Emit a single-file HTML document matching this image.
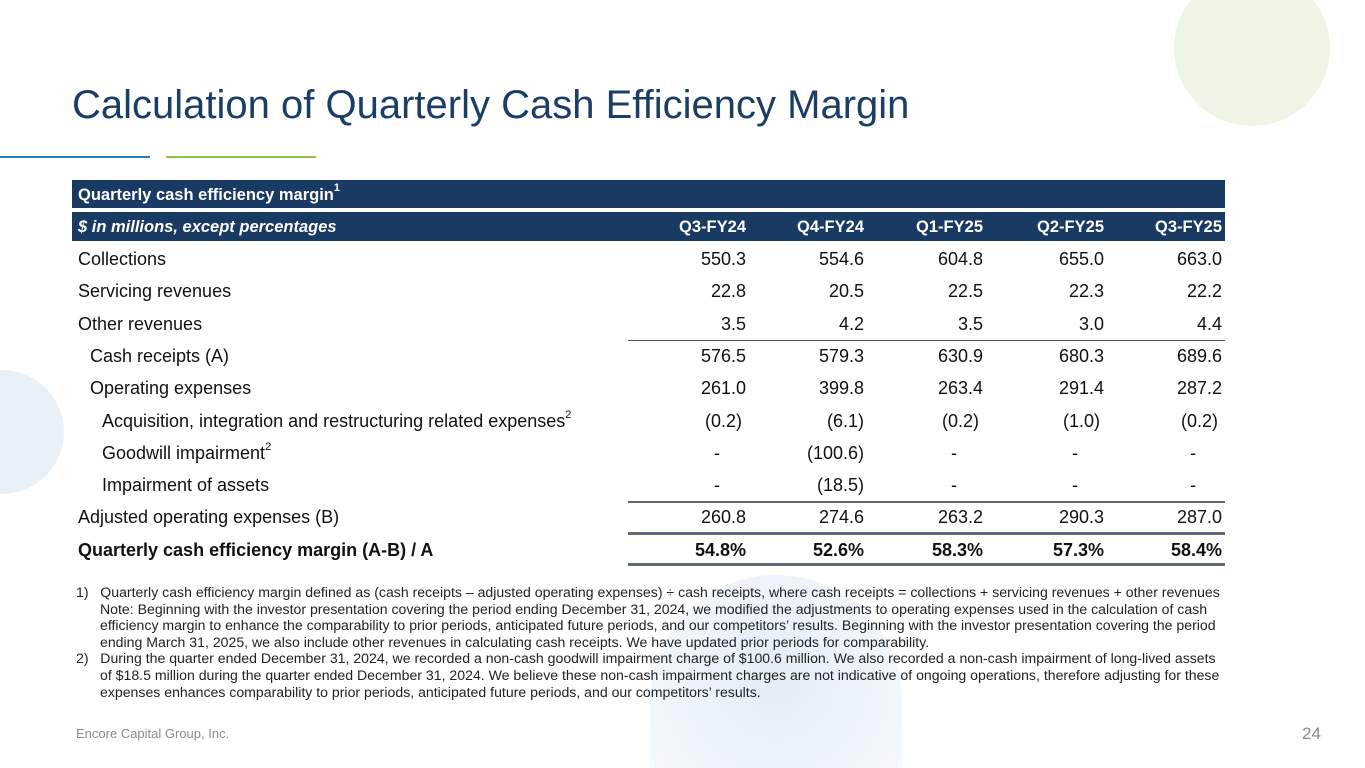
<!DOCTYPE html>
<html><head><meta charset="utf-8"><style>
*{margin:0;padding:0;box-sizing:border-box}
html{width:1365px;height:768px;overflow:hidden}
body{width:1365px;height:768px;overflow:hidden;background:#fff;font-family:"Liberation Sans",sans-serif;color:#111}
#slide{position:relative;width:1365px;height:768px;overflow:hidden}
.abs{position:absolute}
.cell{position:absolute;font-size:18px;white-space:nowrap;line-height:20px}
sup{font-size:11px;vertical-align:9px;line-height:0}
.fn{position:absolute;left:76px;width:1200px;font-size:14.1px;line-height:16.6px;color:#222;white-space:nowrap}
</style></head><body>
<div id="slide">
<div class="abs" style="left:1174px;top:-30px;width:156px;height:156px;border-radius:50%;background:#eef5e4"></div>
<div class="abs" style="left:-60px;top:370px;width:124px;height:124px;border-radius:50%;background:#e9f1f8"></div>
<div class="abs" style="left:650px;top:575px;width:252px;height:193px;border-radius:126px 126px 0 0;background:radial-gradient(circle at 50% 55%,#e3edf6,#eef4fa 60%,#f6f9fc)"></div>
<div class="abs" style="left:72px;top:83px;font-size:40px;color:#1b3d66;white-space:nowrap">Calculation of Quarterly Cash Efficiency Margin</div>
<div class="abs" style="left:0;top:156px;width:150px;height:2px;background:#2a7ab8"></div>
<div class="abs" style="left:166px;top:156px;width:150px;height:2px;background:#8cc34a"></div>
<div id="tbl"></div>
<div class="fn" style="top:584px">1)&nbsp;&nbsp;&nbsp;Quarterly cash efficiency margin defined as (cash receipts – adjusted operating expenses) ÷ cash receipts, where cash receipts = collections + servicing revenues + other revenues<br><span style="padding-left:24px">Note: Beginning with the investor presentation covering the period ending December 31, 2024, we modified the adjustments to operating expenses used in the calculation of cash</span><br><span style="padding-left:24px">efficiency margin to enhance the comparability to prior periods, anticipated future periods, and our competitors’ results. Beginning with the investor presentation covering the period</span><br><span style="padding-left:24px">ending March 31, 2025, we also include other revenues in calculating cash receipts. We have updated prior periods for comparability.</span><br>2)&nbsp;&nbsp;&nbsp;During the quarter ended December 31, 2024, we recorded a non-cash goodwill impairment charge of $100.6 million. We also recorded a non-cash impairment of long-lived assets<br><span style="padding-left:24px">of $18.5 million during the quarter ended December 31, 2024. We believe these non-cash impairment charges are not indicative of ongoing operations, therefore adjusting for these</span><br><span style="padding-left:24px">expenses enhances comparability to prior periods, anticipated future periods, and our competitors’ results.</span></div>
<div class="abs" style="left:76px;top:726px;font-size:13px;color:#8a8a8a">Encore Capital Group, Inc.</div>
<div class="abs" style="left:1302px;top:724px;font-size:17px;color:#8a8a8a">24</div>
</div>
<script>
const quarters=["Q3-FY24","Q4-FY24","Q1-FY25","Q2-FY25","Q3-FY25"];
const labels=["Collections","Servicing revenues","Other revenues","Cash receipts (A)","Operating expenses","Acquisition, integration and restructuring related expenses","Goodwill impairment","Impairment of assets","Adjusted operating expenses (B)","Quarterly cash efficiency margin (A-B) / A"];
const sups=["","","","","","2","2","","",""];
const indents=[0,0,0,12,12,24,24,24,0,0];
const collections=["550.3","554.6","604.8","655.0","663.0"];
const servicing=["22.8","20.5","22.5","22.3","22.2"];
const otherRev=["3.5","4.2","3.5","3.0","4.4"];
const cashReceipts=["576.5","579.3","630.9","680.3","689.6"];
const opex=["261.0","399.8","263.4","291.4","287.2"];
const acq=["(0.2)","(6.1)","(0.2)","(1.0)","(0.2)"];
const goodwill=["-","(100.6)","-","-","-"];
const impairment=["-","(18.5)","-","-","-"];
const adjOpex=["260.8","274.6","263.2","290.3","287.0"];
const margin=["54.8%","52.6%","58.3%","57.3%","58.4%"];
const rows=[collections,servicing,otherRev,cashReceipts,opex,acq,goodwill,impairment,adjOpex,margin];
const colRight=[746,864,983,1104,1222];
const t=document.getElementById('tbl');
function add(html,style,name){const d=document.createElement('div');d.className='cell';d.style.cssText=style;d.innerHTML=html;


t.appendChild(d);return d;}
function bar(x,y,w,h,c,name){const d=document.createElement('div');d.className='abs';d.style.cssText=`left:${x}px;top:${y}px;width:${w}px;height:${h}px;background:${c}`;


t.appendChild(d);}
bar(72,180,1153,28,'#183a63','table-title-bar');
add('Quarterly cash efficiency margin<sup>1</sup>','left:78px;top:185px;color:#fff;font-weight:bold;font-size:16.5px','table-title');
bar(72,212,1153,29,'#183a63','table-header-bar');
add('$ in millions, except percentages','left:78px;top:217px;color:#fff;font-weight:bold;font-style:italic;font-size:16.5px','header-units');
quarters.forEach((q,i)=>add(q,`left:${colRight[i]-90}px;top:217px;width:90px;text-align:right;color:#fff;font-weight:bold;font-size:16.5px`,'header-'+q.toLowerCase()));
rows.forEach((vals,r)=>{const y=249+r*32.3;const bold=r==9?'font-weight:bold;':'';
add(labels[r]+(sups[r]?'<sup>'+sups[r]+'</sup>':''),`left:${78+indents[r]}px;top:${y}px;${bold}`,'row-label-'+r);
vals.forEach((v,i)=>{let rt=colRight[i];if(v==='-')rt-=26;else if(v.startsWith('('))rt+=(i==1?0:-4);
add(v,`left:${rt-100}px;top:${y}px;width:100px;text-align:right;${bold}`,'value-r'+r+'-c'+i);});});
bar(628,340,597,1,'#555','rule-subtotal');
bar(628,501,597,1.5,'#666','rule-adjusted');
bar(628,532,597,3,'#5f6b7a','rule-margin-top');
bar(628,563,597,3,'#5f6b7a','rule-margin-bottom');
</script>
</body></html>
